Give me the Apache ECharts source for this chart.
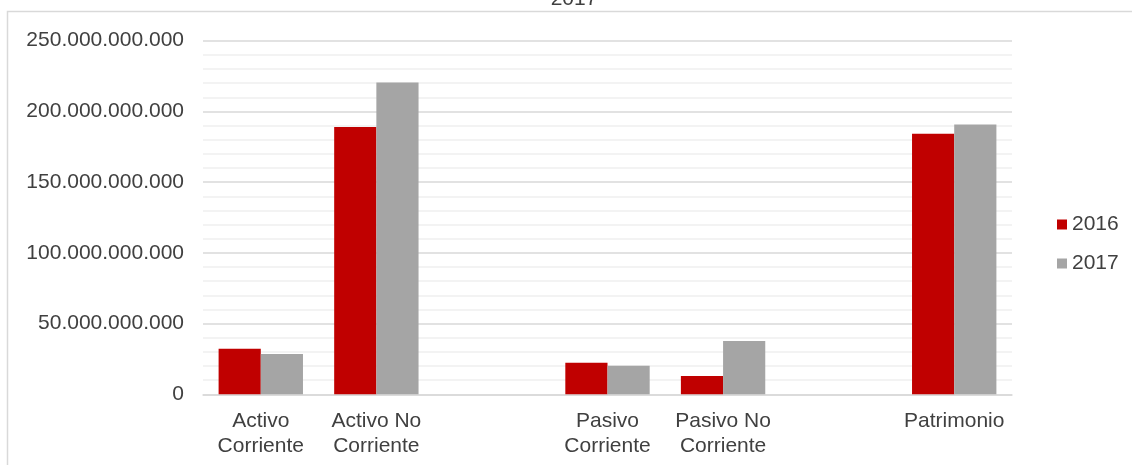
<!DOCTYPE html>
<html>
<head>
<meta charset="utf-8">
<script src="https://cdn.jsdelivr.net/npm/echarts@6/dist/echarts.min.js"></script>
<style>
html,body{margin:0;padding:0;background:#fff;}
#chart{width:1132px;height:465px;}
</style>
</head>
<body>
<div id="chart"></div>
<script>
const titleText = '2017';
const categories = ['Activo\nCorriente', 'Activo No\nCorriente', '', 'Pasivo\nCorriente', 'Pasivo No\nCorriente', '', 'Patrimonio'];
const seriesNames = ['2016', '2017'];
const values2016 = [32200000000, 189000000000, null, 22300000000, 12900000000, null, 184300000000];
const values2017 = [28500000000, 220500000000, null, 20200000000, 37600000000, null, 190700000000];
const yTicks = [0, 50000000000, 100000000000, 150000000000, 200000000000, 250000000000];

function fmt(v) {
  if (v === 0) return '0';
  return String(Math.round(v)).replace(/\B(?=(\d{3})+(?!\d))/g, '.');
}

const chart = echarts.init(document.getElementById('chart'), null, {renderer: 'canvas'});
const font = 'Liberation Sans, Arial, sans-serif';
const txt = '#404040';
chart.setOption({
  animation: false,
  backgroundColor: '#fff',
  textStyle: {fontFamily: font},
  title: {
    text: titleText,
    left: 569,
    textAlign: 'center',
    top: -16,
    textStyle: {fontSize: 21, fontWeight: 'normal', color: txt, fontFamily: font}
  },
  graphic: [{
    type: 'rect',
    shape: {x: 7.5, y: 11.5, width: 1300, height: 600},
    style: {fill: 'none', stroke: '#d9d9d9', lineWidth: 1.5},
    silent: true
  }],
  legend: {
    orient: 'vertical',
    left: 1052,
    top: 209,
    itemWidth: 10,
    itemHeight: 10,
    itemGap: 18,
    icon: 'rect',
    textStyle: {fontSize: 21, color: txt, fontFamily: font},
    data: seriesNames
  },
  grid: {left: 203, right: 120, top: 40.7, bottom: 70.7, containLabel: false},
  xAxis: {
    type: 'category',
    data: categories,
    axisLine: {lineStyle: {color: '#d9d9d9', width: 1.5}},
    axisTick: {show: false},
    axisLabel: {fontSize: 21, color: txt, fontFamily: font, margin: 14, lineHeight: 25, interval: 0}
  },
  yAxis: {
    type: 'value',
    min: yTicks[0],
    max: yTicks[yTicks.length - 1],
    interval: yTicks[1] - yTicks[0],
    axisLine: {show: false},
    axisTick: {show: false},
    axisLabel: {fontSize: 21, color: txt, fontFamily: font, margin: 19, formatter: fmt},
    splitLine: {lineStyle: {color: '#d9d9d9', width: 1.5}},
    minorTick: {show: false, splitNumber: 5},
    minorSplitLine: {show: true, lineStyle: {color: '#efefef', width: 1.5}}
  },
  series: [
    {name: seriesNames[0], type: 'bar', data: values2016, itemStyle: {color: '#c00000'}, barGap: '0%', barCategoryGap: '27%'},
    {name: seriesNames[1], type: 'bar', data: values2017, itemStyle: {color: '#a5a5a5'}, barGap: '0%', barCategoryGap: '27%'}
  ]
});
</script>
</body>
</html>
